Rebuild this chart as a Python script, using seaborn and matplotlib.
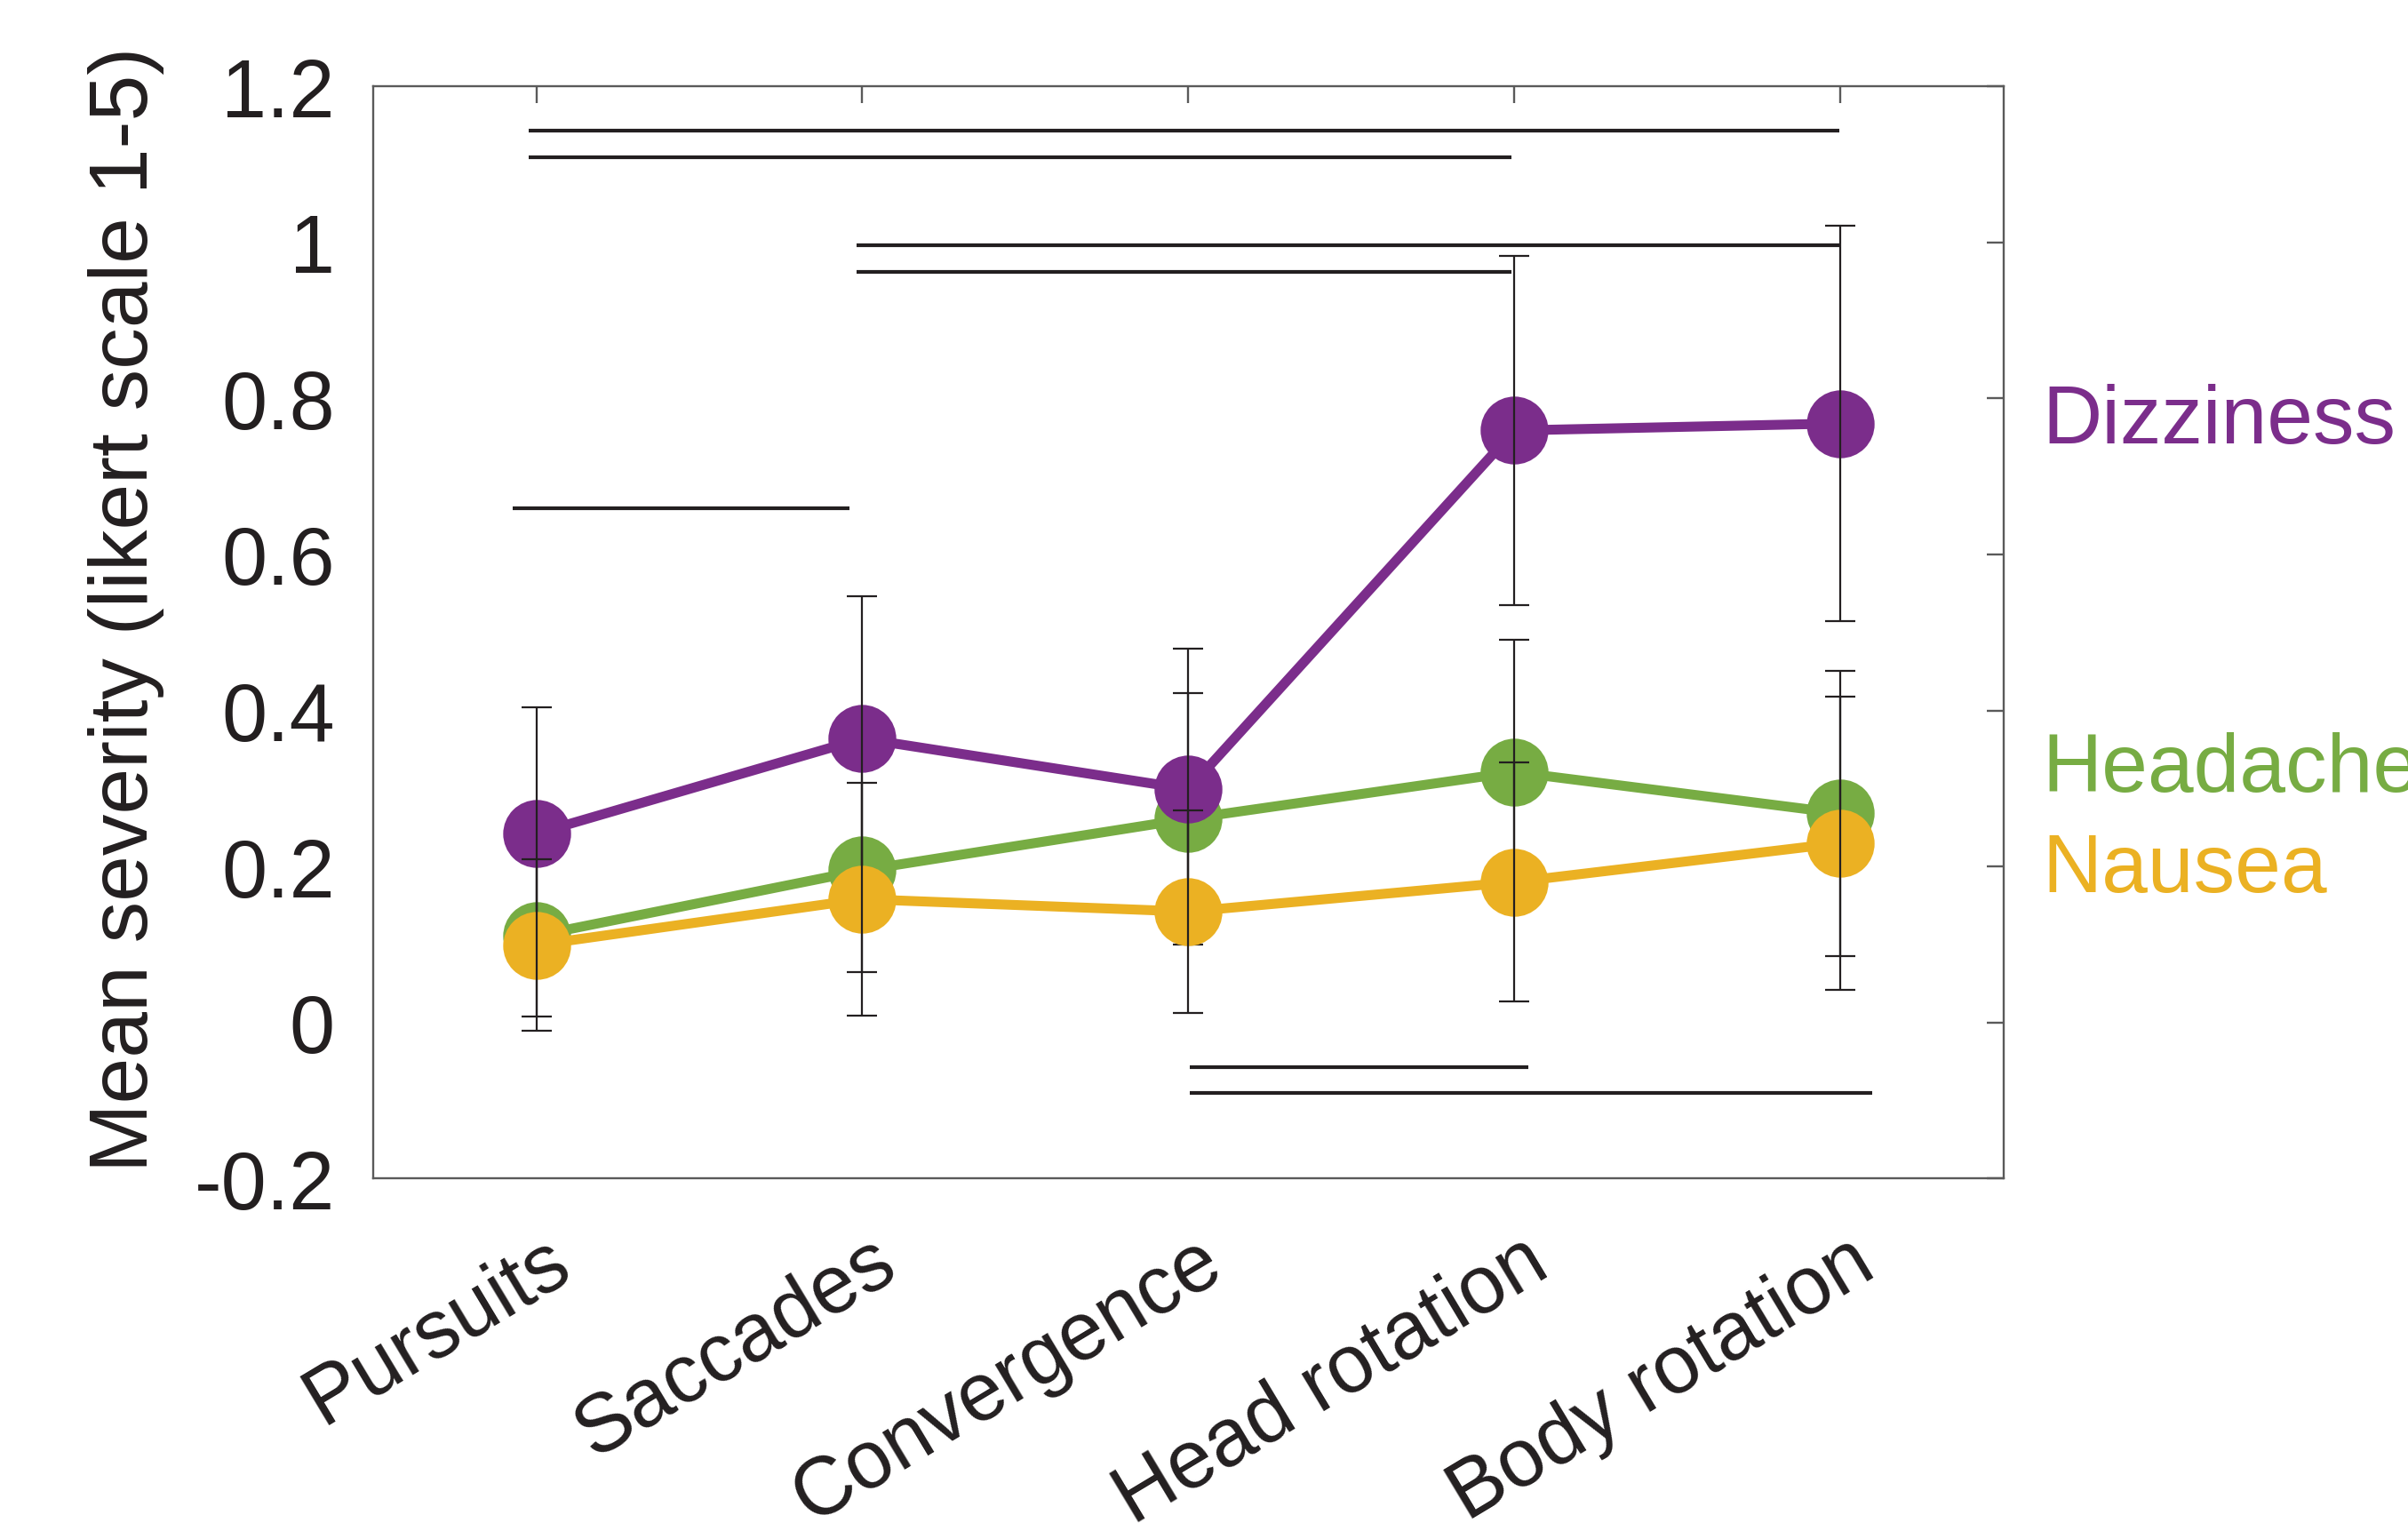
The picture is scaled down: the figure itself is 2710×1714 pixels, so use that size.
import numpy as np
import pandas as pd
import matplotlib
matplotlib.use("Agg")
import matplotlib.pyplot as plt
import matplotlib.transforms as mtransforms
from matplotlib.ticker import FuncFormatter
import seaborn as sns

# ---- data -------------------------------------------------------------
tasks = ["Pursuits", "Saccades", "Convergence", "Head rotation", "Body rotation"]

dizziness = [0.242, 0.364, 0.299, 0.759, 0.768]
dizziness_err = [0.162, 0.183, 0.180, 0.224, 0.254]

headache = [0.111, 0.195, 0.261, 0.321, 0.268]
headache_err = [0.104, 0.131, 0.161, 0.170, 0.183]

nausea = [0.099, 0.158, 0.142, 0.180, 0.230]
nausea_err = [0.110, 0.149, 0.130, 0.153, 0.188]

# significance bars: start task, end task, height
sig_x0 = [0.976, 0.976, 1.983, 1.983, 0.928, 3.005, 3.005]
sig_x1 = [4.996, 3.991, 4.996, 3.991, 1.960, 4.044, 5.097]
sig_y = [1.144, 1.109, 0.996, 0.962, 0.659, -0.057, -0.091]

y_ticks = [-0.2, 0, 0.2, 0.4, 0.6, 0.8, 1.0, 1.2]

symptoms = ["Dizziness", "Headache", "Nausea"]
label_y = [0.744, 0.297, 0.168]
colors = {"Dizziness": "#7B2D8B", "Headache": "#77AC43", "Nausea": "#EBB123"}

series = {"Dizziness": (dizziness, dizziness_err),
          "Headache": (headache, headache_err),
          "Nausea": (nausea, nausea_err)}

rows = []
for name, (vals, errs) in series.items():
    for i, (t, v, e) in enumerate(zip(tasks, vals, errs)):
        rows.append({"task": t, "pos": i + 1, "symptom": name, "value": v, "err": e})
df = pd.DataFrame(rows)

# ---- style ------------------------------------------------------------
sns.set_style("white")
plt.rcParams["font.family"] = ["Liberation Sans", "DejaVu Sans"]
ink = "#231f20"
frame = "#5a5a5a"

fig = plt.figure(figsize=(27.1, 17.15), dpi=100)
ax = fig.add_axes([0.155, 0.2262, 0.677, 0.7164])

# draw order decides which markers sit on top
draw_order = ["Headache", "Dizziness", "Nausea"]
for k, name in enumerate(draw_order):
    sub = df[df["symptom"] == name]
    z = 3 + k
    sns.lineplot(data=sub, x="pos", y="value", color=colors[name], marker="o",
                 markersize=55, markeredgewidth=0, linewidth=8,
                 errorbar=None, legend=False, zorder=z, ax=ax)
    ax.errorbar(sub["pos"], sub["value"], yerr=sub["err"], fmt="none",
                ecolor=ink, elinewidth=1.6, capsize=12, capthick=1.6,
                zorder=z + 0.5)

ax.hlines(sig_y, sig_x0, sig_x1, color=ink, linewidth=3, zorder=2)

for name, y in zip(symptoms, label_y):
    ax.text(5.62, y, name, color=colors[name], fontsize=67,
            ha="left", va="baseline", clip_on=False)

ax.set_xlim(0.5, 5.5)
ax.set_ylim(-0.2, 1.2)
ax.set_xticks(range(1, len(tasks) + 1))
ax.set_xticklabels(tasks, rotation=31, ha="right", va="top",
                   rotation_mode="anchor")
ax.set_yticks(y_ticks)
ax.yaxis.set_major_formatter(FuncFormatter(lambda v, p: f"{v:g}"))
ax.set_xlabel("")
ax.set_ylabel("Mean severity (likert scale 1-5)", fontsize=67, color=ink)
ax.yaxis.set_label_coords(-0.128, 0.522)

for s in ax.spines.values():
    s.set_visible(True)
    s.set_color(frame)
    s.set_linewidth(1.7)

ax.tick_params(axis="both", which="major", direction="in", length=14,
               width=1.7, color=frame, labelcolor=ink, top=True, right=True,
               labelsize=66)
ax.tick_params(axis="y", pad=31)
ax.tick_params(axis="x", pad=20)

offset = mtransforms.ScaledTranslation(8 / 100, -22 / 100, fig.dpi_scale_trans)
for lab in ax.get_xticklabels():
    lab.set_transform(lab.get_transform() + offset)

fig.savefig("out.png", dpi=100)
